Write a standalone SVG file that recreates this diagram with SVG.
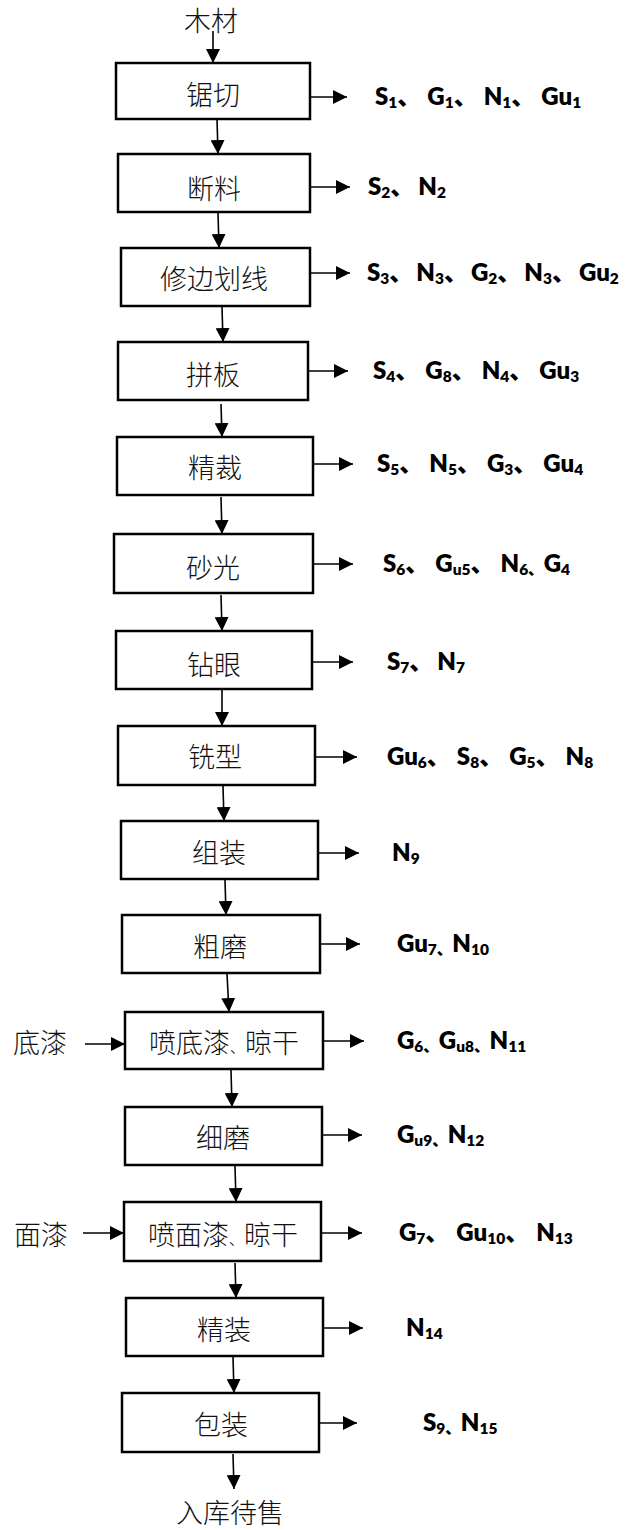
<svg xmlns="http://www.w3.org/2000/svg" width="630" height="1530" viewBox="0 0 630 1530">
<style>
.box{fill:#fff;stroke:#000;stroke-width:2.5}
.cn{font-family:"Noto Sans CJK SC",sans-serif;font-size:27px;font-weight:300;text-anchor:middle;fill:#111}
.cnl{font-family:"Noto Sans CJK SC",sans-serif;font-size:27px;font-weight:300;fill:#111}
.lbl{font-family:Lato,"Noto Sans CJK SC",sans-serif;font-weight:800;font-size:24px;fill:#000}
.sub{font-size:15.5px}
.dun{font-size:15px}
#connectors line{stroke:#000;stroke-width:1.6;fill:none}
</style>
<defs>
<marker id="ah" markerUnits="userSpaceOnUse" markerWidth="15" markerHeight="14" refX="14" refY="7" orient="auto">
<path d="M0,0 L14,7 L0,14 Z" fill="#000"/>
</marker>
</defs>

<g id="connectors">
<line x1="213" y1="31" x2="213" y2="63" marker-end="url(#ah)"/>
<line x1="217" y1="119" x2="218" y2="154" marker-end="url(#ah)"/>
<line x1="218" y1="213" x2="219" y2="248" marker-end="url(#ah)"/>
<line x1="222" y1="307" x2="223" y2="342" marker-end="url(#ah)"/>
<line x1="221" y1="404" x2="222" y2="437" marker-end="url(#ah)"/>
<line x1="221" y1="497" x2="222" y2="534" marker-end="url(#ah)"/>
<line x1="221" y1="595" x2="222" y2="631" marker-end="url(#ah)"/>
<line x1="222" y1="690" x2="222" y2="726" marker-end="url(#ah)"/>
<line x1="223" y1="786" x2="224" y2="821" marker-end="url(#ah)"/>
<line x1="225" y1="880" x2="226" y2="915" marker-end="url(#ah)"/>
<line x1="227" y1="974" x2="229" y2="1012" marker-end="url(#ah)"/>
<line x1="231" y1="1070" x2="232" y2="1107" marker-end="url(#ah)"/>
<line x1="235" y1="1166" x2="236" y2="1202" marker-end="url(#ah)"/>
<line x1="235" y1="1263" x2="236" y2="1298" marker-end="url(#ah)"/>
<line x1="233" y1="1357" x2="234" y2="1393" marker-end="url(#ah)"/>
<line x1="233" y1="1454" x2="234" y2="1489" marker-end="url(#ah)"/>

<line x1="310" y1="97" x2="347" y2="97" marker-end="url(#ah)"/>
<line x1="310" y1="187" x2="350" y2="187" marker-end="url(#ah)"/>
<line x1="310" y1="273" x2="350" y2="273" marker-end="url(#ah)"/>
<line x1="308" y1="371" x2="348" y2="371" marker-end="url(#ah)"/>
<line x1="313" y1="464" x2="353" y2="464" marker-end="url(#ah)"/>
<line x1="313" y1="564" x2="353" y2="564" marker-end="url(#ah)"/>
<line x1="312" y1="662" x2="353" y2="662" marker-end="url(#ah)"/>
<line x1="315" y1="757" x2="357" y2="757" marker-end="url(#ah)"/>
<line x1="318" y1="853" x2="359" y2="853" marker-end="url(#ah)"/>
<line x1="320" y1="944" x2="360" y2="944" marker-end="url(#ah)"/>
<line x1="323" y1="1041" x2="364" y2="1041" marker-end="url(#ah)"/>
<line x1="322" y1="1135" x2="362" y2="1135" marker-end="url(#ah)"/>
<line x1="321" y1="1233" x2="362" y2="1233" marker-end="url(#ah)"/>
<line x1="323" y1="1328" x2="363" y2="1328" marker-end="url(#ah)"/>
<line x1="319" y1="1423" x2="357" y2="1423" marker-end="url(#ah)"/>

<line x1="85" y1="1044" x2="125" y2="1044" marker-end="url(#ah)"/>
<line x1="83" y1="1233" x2="124" y2="1233" marker-end="url(#ah)"/>
</g>

<g id="input-wood"><text class="cn" x="211" y="31">木材</text></g>
<g id="input-primer"><text class="cnl" x="13" y="1053">底漆</text></g>
<g id="input-topcoat"><text class="cnl" x="14" y="1245">面漆</text></g>
<g id="output-store"><text class="cn" x="230" y="1523">入库待售</text></g>

<g id="n1"><rect class="box" x="116" y="63" width="194" height="56"/><text class="cn" x="213" y="105">锯切</text></g>
<g id="n2"><rect class="box" x="118" y="154" width="192" height="58"/><text class="cn" x="214" y="199">断料</text></g>
<g id="n3"><rect class="box" x="121" y="248" width="189" height="58"/><text class="cn" x="214" y="289">修边划线</text></g>
<g id="n4"><rect class="box" x="118" y="342" width="190" height="58"/><text class="cn" x="213" y="385">拼板</text></g>
<g id="n5"><rect class="box" x="117" y="437" width="196" height="58"/><text class="cn" x="215" y="478">精裁</text></g>
<g id="n6"><rect class="box" x="114" y="534" width="199" height="59"/><text class="cn" x="213" y="578">砂光</text></g>
<g id="n7"><rect class="box" x="116" y="631" width="196" height="58"/><text class="cn" x="214" y="675">钻眼</text></g>
<g id="n8"><rect class="box" x="118" y="726" width="197" height="59"/><text class="cn" x="215" y="767">铣型</text></g>
<g id="n9"><rect class="box" x="121" y="821" width="197" height="58"/><text class="cn" x="219" y="863">组装</text></g>
<g id="n10"><rect class="box" x="122" y="915" width="198" height="58"/><text class="cn" x="220" y="957">粗磨</text></g>
<g id="n11"><rect class="box" x="125" y="1012" width="198" height="57"/><text class="cn" x="224" y="1053">喷底漆<tspan class="dun">、</tspan>晾干</text></g>
<g id="n12"><rect class="box" x="125" y="1107" width="197" height="58"/><text class="cn" x="223" y="1148">细磨</text></g>
<g id="n13"><rect class="box" x="124" y="1202" width="197" height="59"/><text class="cn" x="223" y="1245">喷面漆<tspan class="dun">、</tspan>晾干</text></g>
<g id="n14"><rect class="box" x="126" y="1298" width="197" height="58"/><text class="cn" x="224" y="1340">精装</text></g>
<g id="n15"><rect class="box" x="122" y="1393" width="197" height="59"/><text class="cn" x="221" y="1435">包装</text></g>

<g id="labels">
<text class="lbl" x="375" y="105">S<tspan class="sub" dy="3">1</tspan><tspan dy="-3">、</tspan><tspan dx="6">G</tspan><tspan class="sub" dy="3">1</tspan><tspan dy="-3">、</tspan><tspan dx="6">N</tspan><tspan class="sub" dy="3">1</tspan><tspan dy="-3">、</tspan><tspan dx="6">Gu</tspan><tspan class="sub" dy="3">1</tspan></text>
<text class="lbl" x="368" y="195">S<tspan class="sub" dy="3">2</tspan><tspan dy="-3">、</tspan><tspan dx="4">N</tspan><tspan class="sub" dy="3">2</tspan></text>
<text class="lbl" x="367" y="281">S<tspan class="sub" dy="3">3</tspan><tspan dy="-3">、</tspan><tspan dx="3">N</tspan><tspan class="sub" dy="3">3</tspan><tspan dy="-3">、</tspan><tspan dx="3">G</tspan><tspan class="sub" dy="3">2</tspan><tspan dy="-3">、</tspan><tspan dx="3">N</tspan><tspan class="sub" dy="3">3</tspan><tspan dy="-3">、</tspan><tspan dx="3">Gu</tspan><tspan class="sub" dy="3">2</tspan></text>
<text class="lbl" x="373" y="379">S<tspan class="sub" dy="3">4</tspan><tspan dy="-3">、</tspan><tspan dx="6">G</tspan><tspan class="sub" dy="3">8</tspan><tspan dy="-3">、</tspan><tspan dx="6">N</tspan><tspan class="sub" dy="3">4</tspan><tspan dy="-3">、</tspan><tspan dx="6">Gu</tspan><tspan class="sub" dy="3">3</tspan></text>
<text class="lbl" x="377" y="472">S<tspan class="sub" dy="3">5</tspan><tspan dy="-3">、</tspan><tspan dx="6">N</tspan><tspan class="sub" dy="3">5</tspan><tspan dy="-3">、</tspan><tspan dx="6">G</tspan><tspan class="sub" dy="3">3</tspan><tspan dy="-3">、</tspan><tspan dx="6">Gu</tspan><tspan class="sub" dy="3">4</tspan></text>
<text class="lbl" x="383" y="572">S<tspan class="sub" dy="3">6</tspan><tspan dy="-3">、</tspan><tspan dx="6">G</tspan><tspan class="sub" dy="3">u5</tspan><tspan dy="-3">、</tspan><tspan dx="6">N</tspan><tspan class="sub" dy="3">6、</tspan><tspan dy="-3">G</tspan><tspan class="sub" dy="3">4</tspan></text>
<text class="lbl" x="387" y="670">S<tspan class="sub" dy="3">7</tspan><tspan dy="-3">、</tspan><tspan dx="4">N</tspan><tspan class="sub" dy="3">7</tspan></text>
<text class="lbl" x="387" y="765">Gu<tspan class="sub" dy="3">6</tspan><tspan dy="-3">、</tspan><tspan dx="6">S</tspan><tspan class="sub" dy="3">8</tspan><tspan dy="-3">、</tspan><tspan dx="6">G</tspan><tspan class="sub" dy="3">5</tspan><tspan dy="-3">、</tspan><tspan dx="6">N</tspan><tspan class="sub" dy="3">8</tspan></text>
<text class="lbl" x="392" y="861">N<tspan class="sub" dy="3">9</tspan></text>
<text class="lbl" x="397" y="952">Gu<tspan class="sub" dy="3">7、</tspan><tspan dy="-3">N</tspan><tspan class="sub" dy="3">10</tspan></text>
<text class="lbl" x="397" y="1049">G<tspan class="sub" dy="3">6、</tspan><tspan dy="-3">G</tspan><tspan class="sub" dy="3">u8、</tspan><tspan dy="-3">N</tspan><tspan class="sub" dy="3">11</tspan></text>
<text class="lbl" x="397" y="1143">G<tspan class="sub" dy="3">u9、</tspan><tspan dy="-3">N</tspan><tspan class="sub" dy="3">12</tspan></text>
<text class="lbl" x="399" y="1241">G<tspan class="sub" dy="3">7</tspan><tspan dy="-3">、</tspan><tspan dx="7">Gu</tspan><tspan class="sub" dy="3">10</tspan><tspan dy="-3">、</tspan><tspan dx="7">N</tspan><tspan class="sub" dy="3">13</tspan></text>
<text class="lbl" x="406" y="1336">N<tspan class="sub" dy="3">14</tspan></text>
<text class="lbl" x="423" y="1431">S<tspan class="sub" dy="3">9、</tspan><tspan dy="-3">N</tspan><tspan class="sub" dy="3">15</tspan></text>
</g>
</svg>
